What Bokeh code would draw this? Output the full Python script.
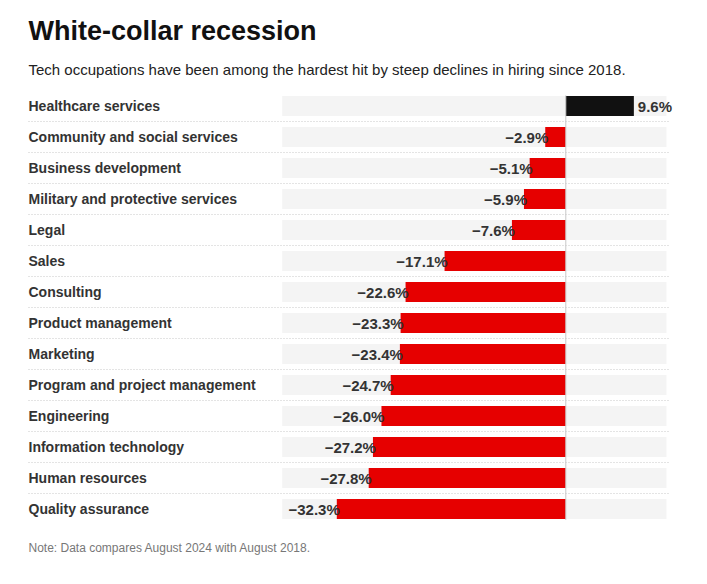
from bokeh.plotting import figure
from bokeh.models import Range1d
from bokeh.core.properties import value
from bokeh.embed import file_html
from bokeh.resources import INLINE

categories = ["Healthcare services", "Community and social services", "Business development",
              "Military and protective services", "Legal", "Sales", "Consulting",
              "Product management", "Marketing", "Program and project management",
              "Engineering", "Information technology", "Human resources", "Quality assurance"]
values = [9.6, -2.9, -5.1, -5.9, -7.6, -17.1, -22.6, -23.3, -23.4, -24.7, -26.0, -27.2, -27.8, -32.3]

title = "White-collar recession"
subtitle = "Tech occupations have been among the hardest hit by steep declines in hiring since 2018."
note = "Note: Data compares August 2024 with August 2018."

band_min, band_max = -40.0, 14.2

W, H = 699, 576
k = 7.09          # px per percentage point
zero_px = 565.3
row0_px, pitch = 105.5, 31.0
x0 = -zero_px / k
x1 = (W - zero_px) / k
y_top = -row0_px / pitch
y_bot = (H - row0_px) / pitch

FONT = value("Liberation Sans")

p = figure(width=W, height=H, output_backend="svg", toolbar_location=None,
           x_range=Range1d(x0, x1), y_range=Range1d(y_bot, y_top),
           min_border=0, outline_line_color=None, background_fill_color="white",
           border_fill_color="white")
p.xaxis.visible = False
p.yaxis.visible = False
p.grid.visible = False

n = len(categories)
ys = list(range(n))
bh = 20.0 / pitch

# background bands
p.hbar(y=ys, left=band_min, right=band_max, height=bh, fill_color="#f4f4f4", line_color=None)

# separators
sep_y = [i + 0.5 for i in range(n - 1)]
sep_left = x0 + 28 / k
sep_right = (668 - zero_px) / k
p.segment(x0=[sep_left] * len(sep_y), x1=[sep_right] * len(sep_y), y0=sep_y, y1=sep_y,
          line_color="#c8c8c8", line_width=1, line_dash="1 2")

# bars
colors = ["#111111" if v > 0 else "#e60000" for v in values]
p.hbar(y=ys, left=0, right=values, height=bh, fill_color=colors, line_color=None)

# zero line
p.segment(x0=[0], x1=[0], y0=[-bh / 2 - 0.02], y1=[n - 1 + bh / 2 + 0.03], line_color="#c8c8c8", line_width=1)

# category labels
p.text(x=[x0] * n, y=ys, text=categories, x_offset=28, text_font=FONT, text_font_size="14px",
       text_font_style="bold", text_color="#333333", text_baseline="middle", text_align="left")

# value labels
def fmt(v):
    s = f"{abs(v):.1f}%"
    return ("\u2212" + s) if v < 0 else s

neg_y = [y for y, v in zip(ys, values) if v < 0]
neg_v = [v for v in values if v < 0]
pos_y = [y for y, v in zip(ys, values) if v > 0]
pos_v = [v for v in values if v > 0]
p.text(x=neg_v, y=neg_y, text=[fmt(v) for v in neg_v], x_offset=3, text_font=FONT,
       text_font_size="15px", text_font_style="bold", text_color="#333333",
       text_baseline="middle", text_align="right")
p.text(x=pos_v, y=pos_y, text=[fmt(v) for v in pos_v], x_offset=4, text_font=FONT,
       text_font_size="15px", text_font_style="bold", text_color="#333333",
       text_baseline="middle", text_align="left")

# title, subtitle, note
p.text(x=[x0], y=[0], text=[title], x_offset=28, y_offset=-75, text_font=FONT,
       text_font_size="27px", text_font_style="bold", text_color="#111111",
       text_baseline="alphabetic", text_align="left")
p.text(x=[x0], y=[0], text=[subtitle], x_offset=28, y_offset=-37, text_font=FONT,
       text_font_size="15px", text_color="#222222", text_baseline="alphabetic", text_align="left")
p.text(x=[x0], y=[n - 1], text=[note], x_offset=28, y_offset=39, text_font=FONT,
       text_font_size="12px", text_color="#777777", text_baseline="alphabetic", text_align="left")

open("out.html", "w").write(file_html(p, INLINE))
